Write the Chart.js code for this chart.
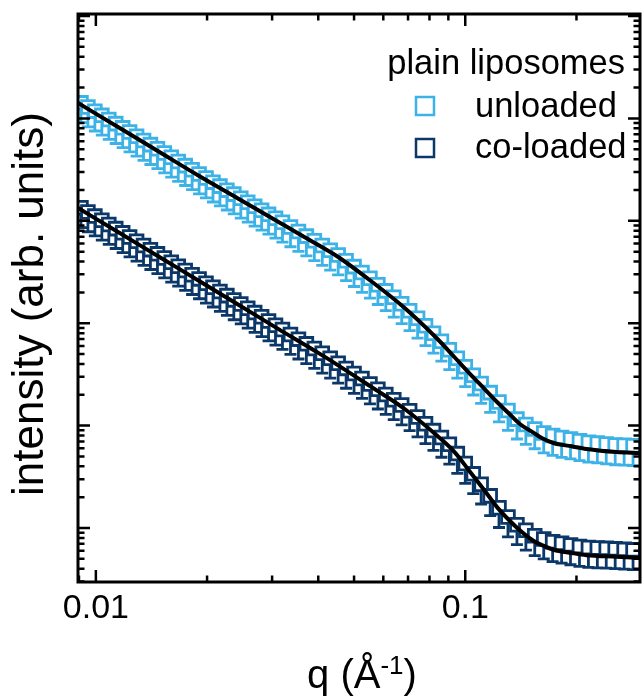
<!DOCTYPE html>
<html>
<head>
<meta charset="utf-8">
<script src="https://cdn.jsdelivr.net/npm/chart.js@4.4.1/dist/chart.umd.min.js"></script>
<style>
  html, body { margin: 0; padding: 0; background: #fff; overflow: hidden; }
  #wrap { position: relative; width: 646px; height: 697px; }
</style>
</head>
<body>
<div id="wrap"><canvas id="saxs"></canvas></div>
<script>
// scattering vector q (1/Angstrom)
const q = [0.009113, 0.009516, 0.009938, 0.01038, 0.01084, 0.01132, 0.01182, 0.01234, 0.01289, 0.01346,
  0.01405, 0.01468, 0.01532, 0.01600, 0.01671, 0.01745, 0.01822, 0.01903, 0.01987, 0.02075,
  0.02167, 0.02263, 0.02363, 0.02468, 0.02577, 0.02691, 0.02810, 0.02934, 0.03064, 0.03200,
  0.03364, 0.03535, 0.03714, 0.03903, 0.04101, 0.04309, 0.04528, 0.04758, 0.04999, 0.05253,
  0.05520, 0.05800, 0.06094, 0.06404, 0.06729, 0.07070, 0.07429, 0.07806, 0.08203, 0.08619,
  0.09057, 0.09517, 0.1000, 0.1051, 0.1104, 0.1168, 0.1234, 0.1305, 0.1380, 0.1459,
  0.1542, 0.1631, 0.1724, 0.1823, 0.1927, 0.2038, 0.2155, 0.2278, 0.2408, 0.2546,
  0.2692, 0.2846];

// measured intensity (arb. units)
const unloaded = [14200, 12920, 11780, 10720, 9777, 8897, 8094, 7365, 6701, 6098,
  5548, 5048, 4593, 4180, 3803, 3460, 3148, 2864, 2618, 2387,
  2183, 1994, 1823, 1662, 1519, 1388, 1269, 1157, 1058, 967,
  872, 786, 709, 639, 575, 516, 463, 407, 357, 313,
  275, 238, 207, 179, 155, 132.5, 112, 94.5, 79.7, 66.7,
  55.1, 45.5, 37.6, 31.1, 25.8, 21.0, 17.03, 14.04, 11.57, 10.25,
  9.29, 8.47, 8.00, 7.66, 7.39, 7.12, 6.89, 6.75, 6.62, 6.48,
  6.43, 6.37];

const coLoaded = [1340, 1222, 1112, 1014, 922, 839, 763, 695, 632, 575,
  523, 476, 433, 394, 360, 327, 298, 271, 246, 225,
  204, 186, 169, 154, 140, 127, 115.5, 105, 95.4, 86.8,
  77.7, 69.9, 62.9, 56.6, 50.9, 45.5, 40.6, 36.2, 32.3, 28.8,
  25.5, 22.7, 20.1, 17.9, 15.9, 13.95, 12.13, 10.41, 8.94, 7.67,
  6.58, 5.33, 4.26, 3.38, 2.68, 2.06, 1.58, 1.28, 1.077, 0.950,
  0.841, 0.782, 0.735, 0.709, 0.684, 0.660, 0.645, 0.638, 0.633, 0.626,
  0.619, 0.612];

// relative error of each series (minus direction shown)
const errUnloaded = 0.36;
const errCoLoaded = 0.36;

// model fits
const fitQ = [0.00895, 0.01160, 0.01486, 0.01904, 0.02438, 0.03123, 0.04001, 0.04529, 0.05554, 0.06855,
  0.08410, 0.09342, 0.1031, 0.1125, 0.1219, 0.1313, 0.1405, 0.1533, 0.1611, 0.1734,
  0.1939, 0.2128, 0.2562, 0.2954];
const fitUnloaded = [14140, 8058, 4697, 2738, 1633, 973, 580, 443, 258.3, 140.8,
  70.1, 46.8, 31.9, 23.0, 17.0, 13.13, 10.36, 8.49, 7.57, 6.76,
  6.28, 5.91, 5.52, 5.40];
const fitCoLoaded = [1334, 760, 443, 258.9, 150.9, 87.6, 51.3, 38.8, 24.0, 14.53,
  7.91, 5.54, 3.53, 2.35, 1.60, 1.197, 0.950, 0.746, 0.682, 0.614,
  0.571, 0.543, 0.524, 0.509];

const xTickLabels = [0.01, 0.1];
const legendTitle = 'plain liposomes';
const seriesNames = ['unloaded', 'co-loaded'];

const LIGHT = '#3cb2e6';
const DARK = '#0b3868';
const FONT = '"Liberation Sans", Arial, sans-serif';

const pts = (xs, ys) => xs.map((v, i) => ({ x: v, y: ys[i] }));

// error bars (minus side) under the markers
const errorBars = {
  id: 'errorBars',
  beforeDatasetsDraw(chart) {
    const { ctx, chartArea: a, scales: { x, y } } = chart;
    ctx.save();
    ctx.beginPath();
    ctx.rect(a.left, a.top, a.right - a.left, a.bottom - a.top);
    ctx.clip();
    chart.data.datasets.forEach(ds => {
      if (ds.relErr === undefined) return;
      ctx.strokeStyle = ds.borderColor;
      ctx.lineWidth = 2.8;
      ctx.beginPath();
      ds.data.forEach(p => {
        const px = x.getPixelForValue(p.x);
        const mid = y.getPixelForValue(p.y);
        const bot = y.getPixelForValue(p.y * (1 - ds.relErr));
        ctx.moveTo(px, mid); ctx.lineTo(px, bot);
        ctx.moveTo(px - 6, bot); ctx.lineTo(px + 6, bot);
      });
      ctx.stroke();
    });
    ctx.restore();
  }
};

// box frame with inward log ticks on all four sides, titles, legend
const frame = {
  id: 'frame',
  afterDraw(chart) {
    const { ctx, chartArea: a, scales: { x, y } } = chart;
    ctx.save();
    ctx.strokeStyle = '#000';
    ctx.lineWidth = 2.5;
    ctx.beginPath();
    for (let e = -3; e <= 0; e++) {
      for (let k = 1; k <= 9; k++) {
        const v = k * Math.pow(10, e);
        if (v < x.min || v > x.max) continue;
        const px = x.getPixelForValue(v), len = k === 1 ? 12 : 6.5;
        ctx.moveTo(px, a.bottom); ctx.lineTo(px, a.bottom - len);
        ctx.moveTo(px, a.top); ctx.lineTo(px, a.top + len);
      }
    }
    for (let e = -1; e <= 5; e++) {
      for (let k = 1; k <= 9; k++) {
        const v = k * Math.pow(10, e);
        if (v < y.min || v > y.max) continue;
        const py = y.getPixelForValue(v), len = k === 1 ? 12 : 6.5;
        ctx.moveTo(a.left, py); ctx.lineTo(a.left + len, py);
        ctx.moveTo(a.right, py); ctx.lineTo(a.right - len, py);
      }
    }
    ctx.stroke();
    ctx.lineWidth = 3;
    ctx.strokeRect(a.left, a.top, a.right - a.left, a.bottom - a.top);

    ctx.fillStyle = '#000';
    // y title
    ctx.save();
    ctx.translate(43, 304);
    ctx.rotate(-Math.PI / 2);
    ctx.font = '44px ' + FONT;
    ctx.textAlign = 'center';
    ctx.textBaseline = 'alphabetic';
    ctx.fillText('intensity (arb. units)', 0, 0);
    ctx.restore();

    // x title with superscript
    const big = '40px ' + FONT, small = '26px ' + FONT;
    ctx.textAlign = 'left';
    ctx.textBaseline = 'alphabetic';
    ctx.font = big;
    const w1 = ctx.measureText('q (Å').width, w3 = ctx.measureText(')').width;
    ctx.font = small;
    const w2 = ctx.measureText('-1').width;
    let tx = 362 - (w1 + w2 + w3) / 2;
    ctx.font = big; ctx.fillText('q (Å', tx, 688); tx += w1;
    ctx.font = small; ctx.fillText('-1', tx, 674); tx += w2;
    ctx.font = big; ctx.fillText(')', tx, 688);

    // legend
    ctx.font = '34.5px ' + FONT;
    ctx.textAlign = 'right';
    ctx.fillText(legendTitle, 625, 74);
    ctx.textAlign = 'left';
    ctx.lineWidth = 2.5;
    [[LIGHT, 106, 117], [DARK, 148, 158]].forEach(([c, cy, by], i) => {
      ctx.strokeStyle = c;
      ctx.strokeRect(416, cy - 9, 18, 18);
      ctx.fillText(seriesNames[i], 475, by);
    });
    ctx.restore();
  }
};

new Chart(document.getElementById('saxs'), {
  type: 'scatter',
  data: {
    datasets: [
      { label: 'fit unloaded', data: pts(fitQ, fitUnloaded), showLine: true, borderColor: '#000',
        borderWidth: 4, pointRadius: 0, cubicInterpolationMode: 'monotone', order: 0 },
      { label: 'fit co-loaded', data: pts(fitQ, fitCoLoaded), showLine: true, borderColor: '#000',
        borderWidth: 4, pointRadius: 0, cubicInterpolationMode: 'monotone', order: 0 },
      { label: seriesNames[0], data: pts(q, unloaded), relErr: errUnloaded, pointStyle: 'rect',
        pointRadius: 9, borderWidth: 2.8, borderColor: LIGHT, backgroundColor: '#fff', order: 1 },
      { label: seriesNames[1], data: pts(q, coLoaded), relErr: errCoLoaded, pointStyle: 'rect',
        pointRadius: 9, borderWidth: 2.8, borderColor: DARK, backgroundColor: '#fff', order: 1 }
    ]
  },
  options: {
    responsive: true,
    maintainAspectRatio: false,
    animation: false,
    events: [],
    layout: { autoPadding: false, padding: { top: 14, right: 2, left: 0, bottom: 0 } },
    plugins: { legend: { display: false }, tooltip: { enabled: false } },
    scales: {
      x: {
        type: 'logarithmic',
        min: 0.008946,
        max: 0.2972,
        grid: { display: false, drawTicks: false },
        border: { display: false },
        ticks: {
          autoSkip: false,
          maxRotation: 0,
          padding: 6,
          color: '#000',
          font: { family: FONT, size: 34 },
          callback: v => xTickLabels.some(t => Math.abs(t - v) < t * 1e-6) ? String(v) : ''
        },
        afterFit: s => { s.height = 115; }
      },
      y: {
        type: 'logarithmic',
        min: 0.297,
        max: 104700,
        grid: { display: false, drawTicks: false },
        border: { display: false },
        ticks: { display: false },
        afterFit: s => { s.width = 78; }
      }
    }
  },
  plugins: [errorBars, frame]
});
</script>
</body>
</html>
